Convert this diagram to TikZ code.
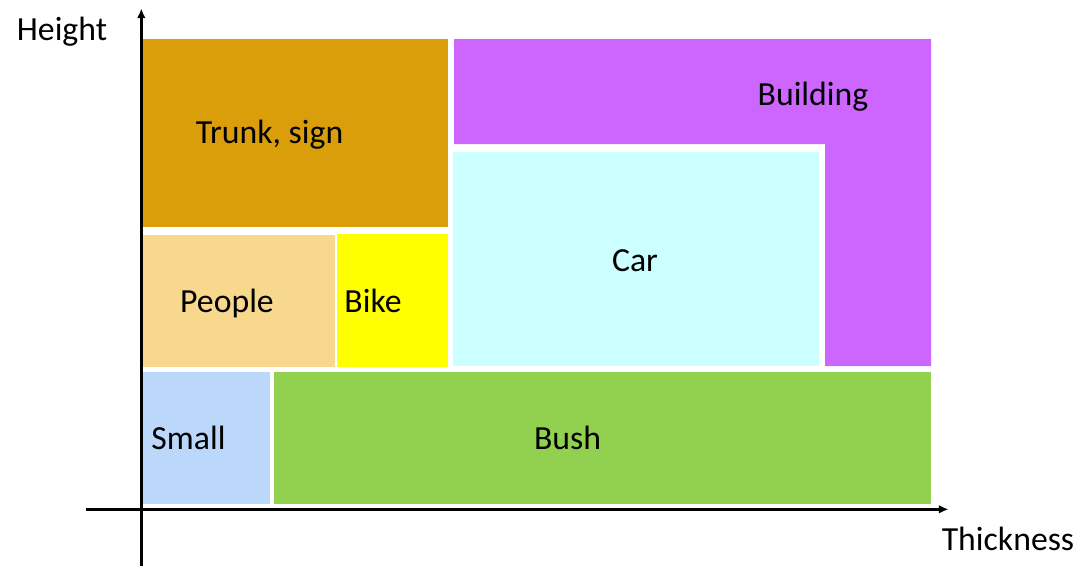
\documentclass[tikz,border=0pt]{standalone}
\usepackage{fontspec}
\setmainfont{Carlito}
\usetikzlibrary{arrows.meta,positioning}

\definecolor{trunkcol}{RGB}{218,158,10}
\definecolor{buildcol}{RGB}{204,102,255}
\definecolor{carcol}{RGB}{204,255,255}
\definecolor{peoplecol}{RGB}{248,216,141}
\definecolor{bikecol}{RGB}{255,255,0}
\definecolor{smallcol}{RGB}{187,216,250}
\definecolor{bushcol}{RGB}{146,208,80}

\begin{document}
\begin{tikzpicture}[
    x=0.02cm, y=-0.02cm,
    lbl/.style={anchor=base, inner sep=0pt, font=\fontsize{19.2}{23}\selectfont},
    axis/.style={line width=1.5pt, -{Latex[length=5.5pt,width=5pt]}}
  ]
    \useasboundingbox (0,0) rectangle (1081,576);

    % regions
    \fill[trunkcol]  (142.5,39) rectangle (448,227);
    \fill[buildcol]  (454,39) -- (931,39) -- (931,366) -- (825,366) -- (825,144) -- (454,144) -- cycle;
    \fill[carcol]    (453,152) rectangle (819,366);
    \fill[peoplecol] (142.5,235) rectangle (335,366.5);
    \fill[bikecol]   (337,234) rectangle (448,366.5);
    \fill[smallcol]  (142.5,372) rectangle (270,504);
    \fill[bushcol]   (274,372) rectangle (931,504);

    % labels
    \node[lbl] (trunk)    at (269.5,143.5) {Trunk, sign};
    \node[lbl] (building) at (813,105)     {Building};
    \node[lbl] (car)      at (635,271.5)   {Car};
    \node[lbl] (people)   at (227,312.5)   {People};
    \node[lbl] (bike)     at (373,312.5)   {Bike};
    \node[lbl] (small)    at (188.5,449.5) {Small};
    \node[lbl] (bush)     at (567.5,449.5) {Bush};

    % axes
    \coordinate (ybot) at (141.3,565.7);
    \coordinate (ytop) at (141.3,8.5);
    \coordinate (xleft) at (85.7,509.3);
    \coordinate (xright) at (948.5,509.3);
    \draw[axis] (ybot) -- (ytop);
    \draw[axis] (xleft) -- (xright);

    \node[lbl] (height)    at (62,40.7)   {Height};
    \node[lbl] (thickness) at (1008,550)  {Thickness};
  \end{tikzpicture}
\end{document}
